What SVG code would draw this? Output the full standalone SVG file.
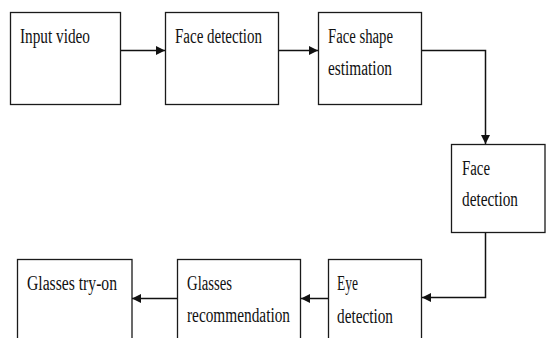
<svg xmlns="http://www.w3.org/2000/svg" width="546" height="338" viewBox="0 0 546 338">
  <defs>
    <style>
      .box { fill: #ffffff; stroke: #1a1a1a; stroke-width: 1.3; }
      .lbl { font-family: "Liberation Serif", "Times New Roman", serif; font-size: 20px; fill: #111111; }
      .wire { fill: none; stroke: #111111; stroke-width: 1.5; }
    </style>
    <marker id="arrow" viewBox="0 0 10 10" refX="10" refY="5" markerWidth="9" markerHeight="9" markerUnits="userSpaceOnUse" orient="auto">
      <path d="M0,0 L10,5 L0,10 z" fill="#111111"/>
    </marker>
  </defs>

  <rect width="546" height="338" fill="#ffffff"/>

  <!-- pipeline steps -->
  <g id="input-video">
    <rect class="box" x="10.5" y="12.5" width="110" height="92"/>
    <text class="lbl" x="20" y="43" textLength="70" lengthAdjust="spacingAndGlyphs">Input video</text>
  </g>

  <g id="face-detection-1">
    <rect class="box" x="165.5" y="12.5" width="113" height="92"/>
    <text class="lbl" x="175" y="43" textLength="87" lengthAdjust="spacingAndGlyphs">Face detection</text>
  </g>

  <g id="face-shape-estimation">
    <rect class="box" x="318.5" y="12.5" width="103" height="92"/>
    <text class="lbl" x="328" y="43" textLength="65" lengthAdjust="spacingAndGlyphs">Face shape</text>
    <text class="lbl" x="328" y="75" textLength="64" lengthAdjust="spacingAndGlyphs">estimation</text>
  </g>

  <g id="face-detection-2">
    <rect class="box" x="451.5" y="144.5" width="93.5" height="88"/>
    <text class="lbl" x="462" y="175" textLength="28" lengthAdjust="spacingAndGlyphs">Face</text>
    <text class="lbl" x="462" y="206" textLength="56" lengthAdjust="spacingAndGlyphs">detection</text>
  </g>

  <g id="eye-detection">
    <rect class="box" x="328.5" y="259.5" width="93" height="90"/>
    <text class="lbl" x="337" y="290" textLength="21" lengthAdjust="spacingAndGlyphs">Eye</text>
    <text class="lbl" x="337" y="323" textLength="56" lengthAdjust="spacingAndGlyphs">detection</text>
  </g>

  <g id="glasses-recommendation">
    <rect class="box" x="177.5" y="259.5" width="123" height="90"/>
    <text class="lbl" x="187" y="290" textLength="45" lengthAdjust="spacingAndGlyphs">Glasses</text>
    <text class="lbl" x="187" y="322" textLength="103" lengthAdjust="spacingAndGlyphs">recommendation</text>
  </g>

  <g id="glasses-try-on">
    <rect class="box" x="17.5" y="259.5" width="114.5" height="90"/>
    <text class="lbl" x="27" y="290" textLength="90" lengthAdjust="spacingAndGlyphs">Glasses try-on</text>
  </g>

  <!-- connectors -->
  <g id="connectors">
    <path class="wire" d="M121,50.5 H165" marker-end="url(#arrow)"/>
    <path class="wire" d="M279,50.5 H318" marker-end="url(#arrow)"/>
    <path class="wire" d="M422,50.5 H485.5 V144" marker-end="url(#arrow)"/>
    <path class="wire" d="M485.5,233 V297.5 H422" marker-end="url(#arrow)"/>
    <path class="wire" d="M328,298.5 H301" marker-end="url(#arrow)"/>
    <path class="wire" d="M177,298.5 H132" marker-end="url(#arrow)"/>
  </g>
</svg>
